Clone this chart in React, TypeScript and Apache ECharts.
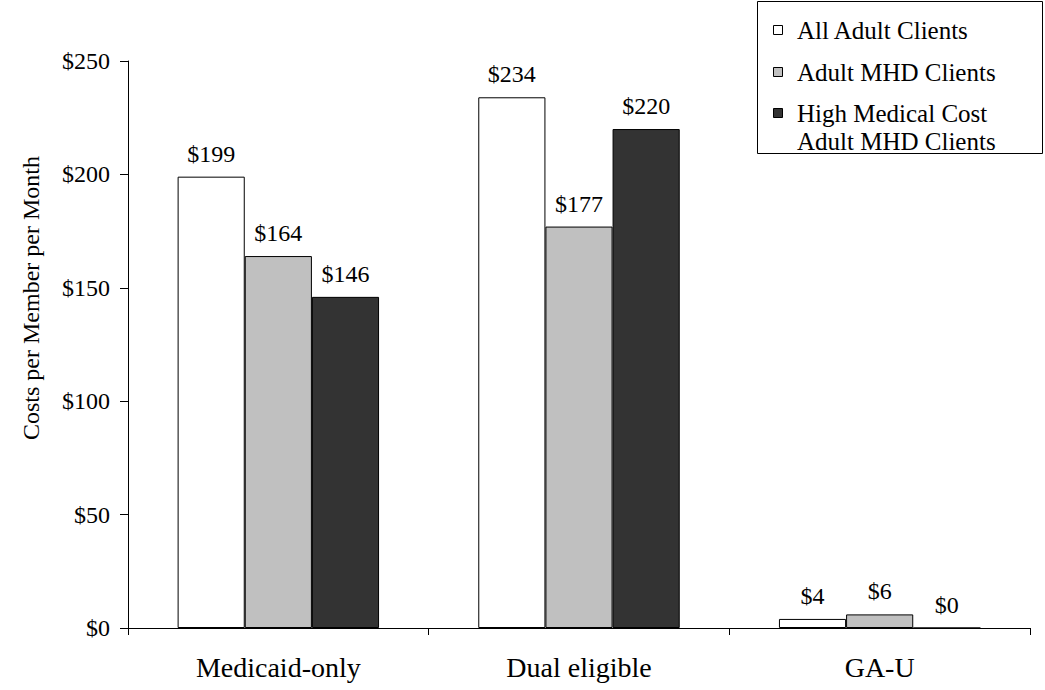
import React, { useEffect, useRef } from "react";
import * as echarts from "echarts";

const categories = ["Medicaid-only", "Dual eligible", "GA-U"];
const seriesNames = ["All Adult Clients", "Adult MHD Clients", "High Medical Cost Adult MHD Clients"];
const legendLines = [["All Adult Clients"], ["Adult MHD Clients"], ["High Medical Cost", "Adult MHD Clients"]];
const allAdult = [199, 234, 4];
const adultMhd = [164, 177, 6];
const highCostMhd = [146, 220, 0];
const seriesColors = ["#ffffff", "#c0c0c0", "#333333"];
const yTicks = { min: 0, max: 250, interval: 50 };
const yTitle = "Costs per Member per Month";

const FONT = "'Liberation Serif', 'DejaVu Serif', serif";

export default function App() {
  const ref = useRef<HTMLDivElement>(null);

  useEffect(() => {
    if (!ref.current) return;
    const chart = echarts.init(ref.current, undefined, { renderer: "svg" });
    const values = [allAdult, adultMhd, highCostMhd];

    // Boxed legend drawn by hand so the wrapped entry keeps its marker on the first line
    const graphics: any[] = [
      {
        type: "rect",
        shape: { x: 757.5, y: 1.5, width: 285, height: 152 },
        style: { fill: "#fff", stroke: "#000", lineWidth: 1 },
      },
    ];
    const rowY = [30, 72, 113];
    const lineHeight = 28;
    legendLines.forEach((lines, i) => {
      graphics.push({
        type: "rect",
        shape: { x: 773.5, y: rowY[i] - 4.5, width: 9, height: 9 },
        style: { fill: seriesColors[i], stroke: "#000", lineWidth: 1 },
      });
      graphics.push({
        type: "text",
        x: 797,
        y: rowY[i] - lineHeight / 2,
        style: {
          text: lines.join("\n"),
          font: `25px ${FONT}`,
          fill: "#000",
          verticalAlign: "top",
          lineHeight,
        },
      });
    });

    // Rotated y-axis title, sitting a little above the plot's middle
    graphics.push({
      type: "text",
      x: 31,
      y: 298,
      rotation: Math.PI / 2,
      style: {
        text: yTitle,
        font: `24px ${FONT}`,
        fill: "#000",
        align: "center",
        verticalAlign: "middle",
      },
    });

    chart.setOption({
      animation: false,
      grid: { left: 128, right: 15, top: 61, bottom: 62 },
      xAxis: {
        type: "category",
        data: categories,
        axisLine: { lineStyle: { color: "#000", width: 1 } },
        axisTick: { show: true, length: 7, lineStyle: { color: "#000" } },
        axisLabel: { color: "#000", fontFamily: FONT, fontSize: 28, margin: 25 },
      },
      yAxis: {
        type: "value",
        min: yTicks.min,
        max: yTicks.max,
        interval: yTicks.interval,
        axisLine: { show: true, lineStyle: { color: "#000", width: 1 } },
        axisTick: { show: true, length: 8, lineStyle: { color: "#000" } },
        axisLabel: {
          color: "#000",
          fontFamily: FONT,
          fontSize: 24,
          margin: 18,
          formatter: (v: number) => "$" + v,
        },
        splitLine: { show: false },
      },
      series: values.map((data, i) => ({
        name: seriesNames[i],
        type: "bar",
        data,
        barGap: "0%",
        barCategoryGap: "33%",
        itemStyle: { color: seriesColors[i], borderColor: "#000", borderWidth: 1 },
        label: {
          show: true,
          position: "top",
          distance: 11,
          color: "#000",
          fontFamily: FONT,
          fontSize: 24,
          formatter: (p: any) => "$" + p.value,
        },
      })),
      graphic: graphics,
    });

    return () => chart.dispose();
  }, []);

  return <div ref={ref} style={{ position: "fixed", left: 0, top: 0, width: 1045, height: 690, background: "#fff" }} />;
}
